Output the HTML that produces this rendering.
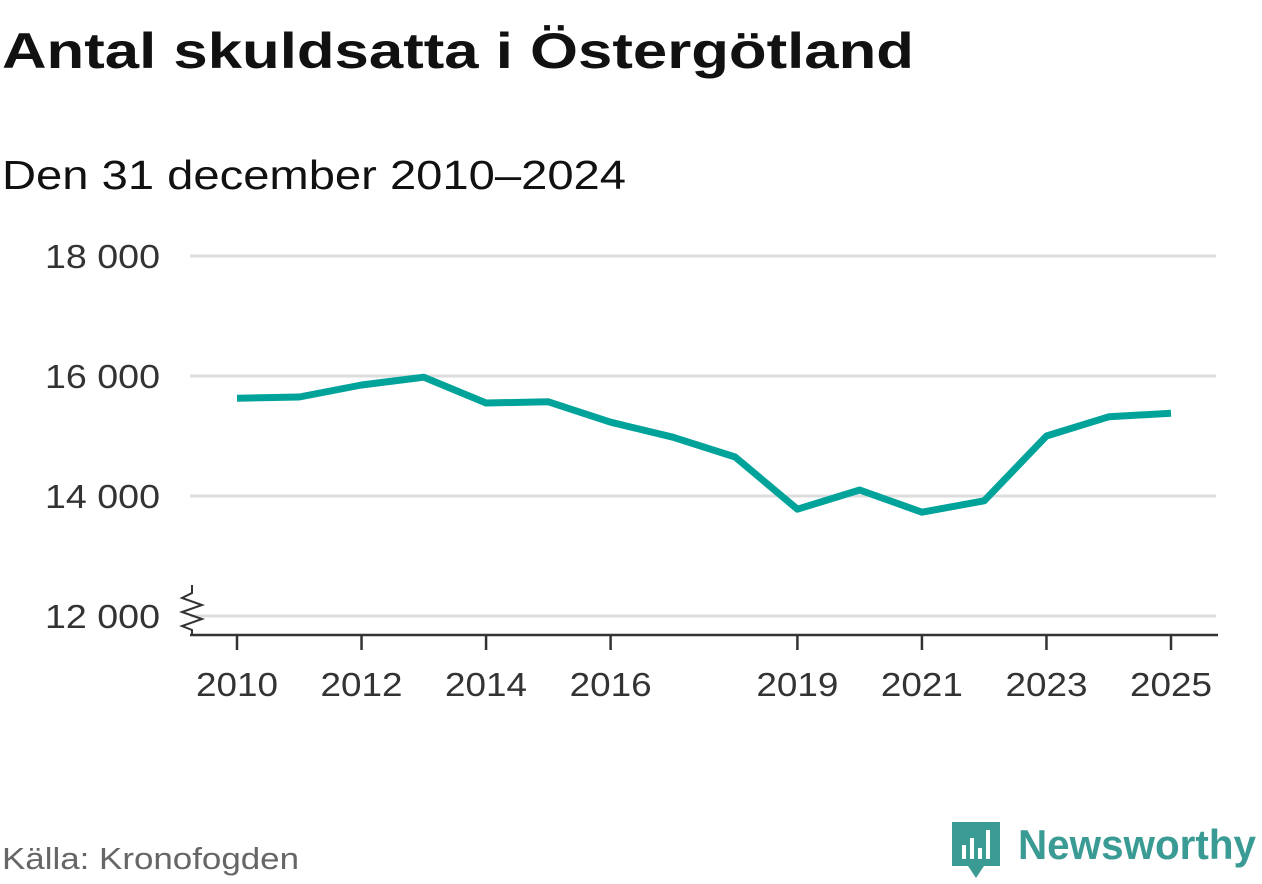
<!DOCTYPE html>
<html><head><meta charset="utf-8">
<style>
html,body{margin:0;padding:0;background:#fff;}
body{width:1262px;height:879px;overflow:hidden;font-family:"Liberation Sans","DejaVu Sans",sans-serif;}
</style></head>
<body>
<svg width="1262" height="879" viewBox="0 0 1262 879" xmlns="http://www.w3.org/2000/svg" font-family="Liberation Sans, DejaVu Sans, sans-serif">
  <text x="2" y="68" font-size="50" font-weight="bold" fill="#111" textLength="912" lengthAdjust="spacingAndGlyphs">Antal skuldsatta i Östergötland</text>
  <text x="2" y="189" font-size="41" fill="#111" textLength="624" lengthAdjust="spacingAndGlyphs">Den 31 december 2010–2024</text>
  <g id="grid"></g>
  <g id="yticks"></g>
  <g id="xaxis"></g>
  <polyline points="192,585 192,593 182,598 202,605 182,612 202,619 182,626 192,630 192,636" fill="none" stroke="#333" stroke-width="2"/>
  <path id="line" fill="none" stroke="#00a39a" stroke-width="7" stroke-linejoin="round"/>
  <text x="2" y="869" font-size="31" fill="#666" textLength="297" lengthAdjust="spacingAndGlyphs">Källa: Kronofogden</text>
  <g>
    <path d="M952,822 h48 v44 h-16 l-8,12 l-8,-12 h-16 z" fill="#3a9a94"/>
    <rect x="962" y="845" width="4" height="14" fill="#fff"/>
    <rect x="970" y="838" width="4" height="21" fill="#fff"/>
    <rect x="978" y="848" width="4" height="11" fill="#fff"/>
    <rect x="986" y="830" width="4" height="29" fill="#fff"/>
    <text x="1018" y="859" font-size="42" font-weight="bold" fill="#3a9a94" textLength="238" lengthAdjust="spacingAndGlyphs">Newsworthy</text>
  </g>
</svg>
<script>
const years=[2010,2011,2012,2013,2014,2015,2016,2017,2018,2019,2020,2021,2022,2023,2024,2025];
const values=[15630,15650,15850,15980,15550,15570,15230,14980,14650,13780,14100,13730,13920,15000,15320,15380];
const yTicks=[12000,14000,16000,18000];
const xTickYears=[2010,2012,2014,2016,2019,2021,2023,2025];
const ns="http://www.w3.org/2000/svg";
function xs(y){return 237+(y-2010)*(1171-237)/15;}
function ys(v){return 616-(v-12000)*0.06;}
const grid=document.getElementById('grid'),yt=document.getElementById('yticks'),xa=document.getElementById('xaxis');
yTicks.forEach(t=>{
  const l=document.createElementNS(ns,'line');
  
  
  l.setAttribute('x1',190);l.setAttribute('x2',1216);l.setAttribute('y1',ys(t));l.setAttribute('y2',ys(t));
  l.setAttribute('stroke','#ddd');l.setAttribute('stroke-width',3);grid.appendChild(l);
  const tx=document.createElementNS(ns,'text');
  
  
  tx.setAttribute('x',45);tx.setAttribute('y',ys(t)+12);
  tx.setAttribute('textLength',115);tx.setAttribute('lengthAdjust','spacingAndGlyphs');
  tx.setAttribute('font-size',33);tx.setAttribute('fill','#333');
  tx.textContent=String(t).replace(/(\d+)(\d{3})$/,'$1 $2');yt.appendChild(tx);
});
const ax=document.createElementNS(ns,'line');


ax.setAttribute('x1',190);ax.setAttribute('x2',1218);ax.setAttribute('y1',635);ax.setAttribute('y2',635);
ax.setAttribute('stroke','#333');ax.setAttribute('stroke-width',2.5);xa.appendChild(ax);
xTickYears.forEach(y=>{
  const tk=document.createElementNS(ns,'line');
  
  
  tk.setAttribute('x1',xs(y));tk.setAttribute('x2',xs(y));tk.setAttribute('y1',635);tk.setAttribute('y2',650);
  tk.setAttribute('stroke','#333');tk.setAttribute('stroke-width',2.5);xa.appendChild(tk);
  const tx=document.createElementNS(ns,'text');
  
  
  tx.setAttribute('x',xs(y)-41);tx.setAttribute('y',696);
  tx.setAttribute('textLength',82);tx.setAttribute('lengthAdjust','spacingAndGlyphs');
  tx.setAttribute('font-size',33);tx.setAttribute('fill','#333');tx.textContent=y;xa.appendChild(tx);
});
document.getElementById('line').setAttribute('d',values.map((v,i)=>(i?'L':'M')+xs(years[i])+','+ys(v)).join(' '));
</script>
</body></html>
